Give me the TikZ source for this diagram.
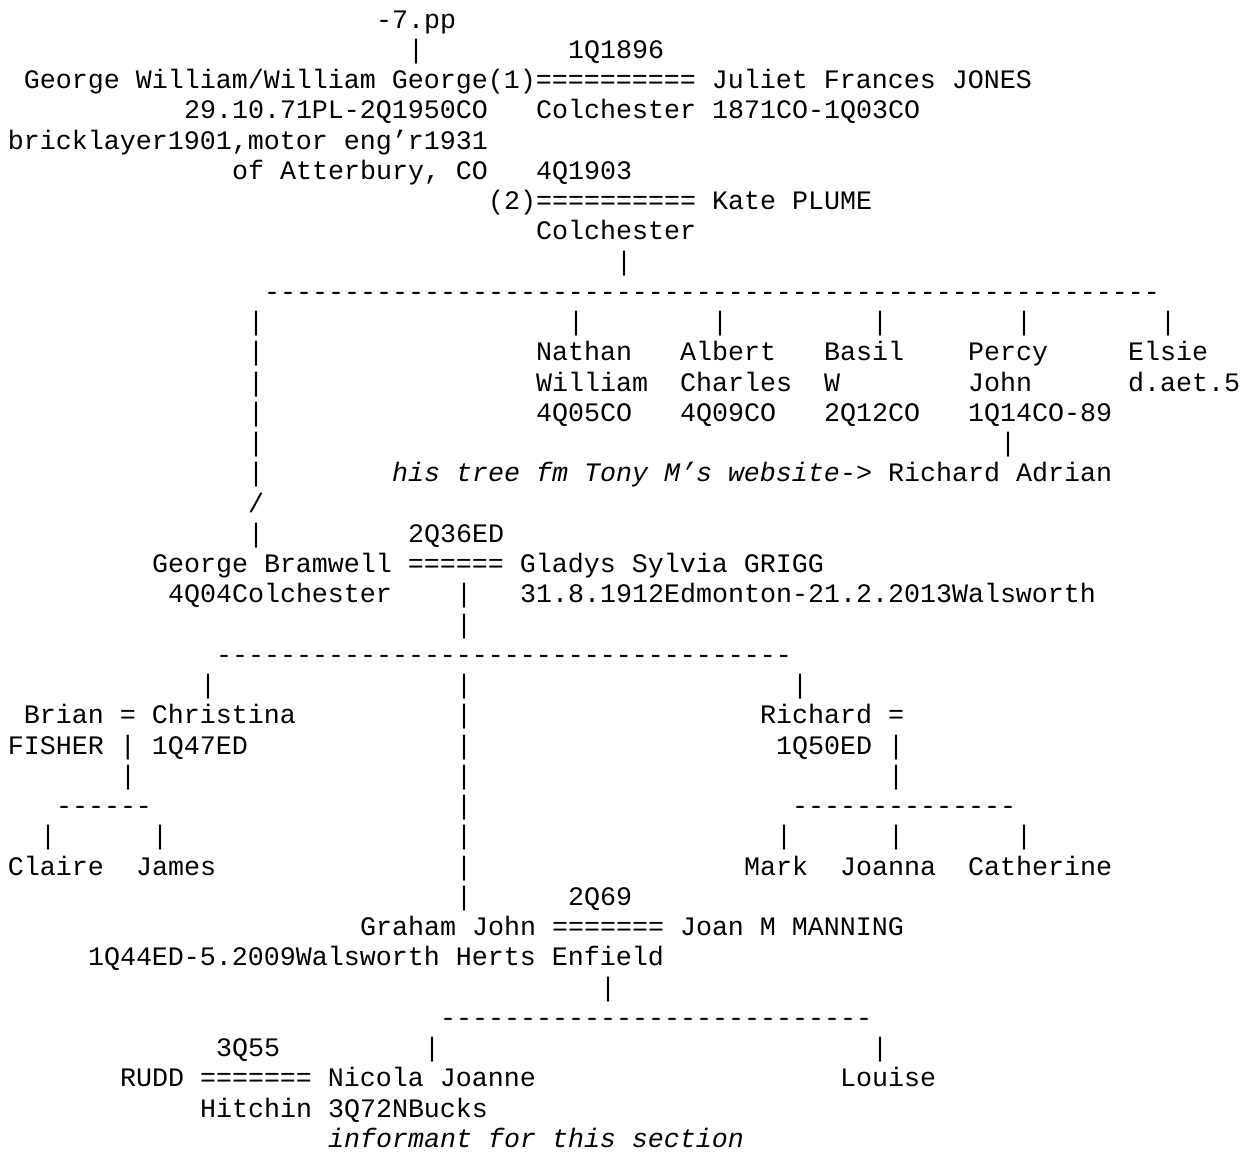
\documentclass[tikz,border=0pt]{standalone}
\usepackage{fontspec}
\setmonofont{Liberation Mono}
\frenchspacing
\newcommand\rep[2]{\ifnum#1>0 #2{}\expandafter\rep\expandafter{\the\numexpr#1-1\relax}{#2}\fi}
\tikzset{txt/.style={anchor=base west, inner sep=0pt, outer sep=0pt,
  font=\ttfamily\fontsize{13.333}{16}\selectfont}}
\newcommand\T[3]{\node[txt] (r#1c#2) at ({8+16*#2},{28+30.25*(#1-1)}) {#3};}
\begin{document}
\begin{tikzpicture}[x=0.5pt,y=-0.5pt]
\fill[white] (0,0) rectangle (1251,1151);
\useasboundingbox (0,0) rectangle (1251,1151);
\T{1}{23}{-7.pp}
\T{2}{25}{|}\T{2}{35}{1Q1896}
\T{3}{1}{George William/William George(1)\rep{10}{=} Juliet Frances JONES}
\T{4}{11}{29.10.71PL-2Q1950CO}\T{4}{33}{Colchester 1871CO-1Q03CO}
\T{5}{0}{bricklayer1901,motor eng’r1931}
\T{6}{14}{of Atterbury, CO}\T{6}{33}{4Q1903}
\T{7}{30}{(2)\rep{10}{=} Kate PLUME}
\T{8}{33}{Colchester}
\T{9}{38}{|}
\T{10}{16}{\rep{56}{-}}
\T{11}{15}{|}\T{11}{35}{|}\T{11}{44}{|}\T{11}{54}{|}\T{11}{63}{|}\T{11}{72}{|}
\T{12}{15}{|}\T{12}{33}{Nathan}\T{12}{42}{Albert}\T{12}{51}{Basil}\T{12}{60}{Percy}\T{12}{70}{Elsie}
\T{13}{15}{|}\T{13}{33}{William}\T{13}{42}{Charles}\T{13}{51}{W}\T{13}{60}{John}\T{13}{70}{d.aet.5}
\T{14}{15}{|}\T{14}{33}{4Q05CO}\T{14}{42}{4Q09CO}\T{14}{51}{2Q12CO}\T{14}{60}{1Q14CO-89}
\T{15}{15}{|}\T{15}{62}{|}
\T{16}{15}{|}\T{16}{24}{{\itshape his tree fm Tony M’s website}-> Richard Adrian}
\T{17}{15}{/}
\T{18}{15}{|}\T{18}{25}{2Q36ED}
\T{19}{9}{George Bramwell \rep{6}{=} Gladys Sylvia GRIGG}
\T{20}{10}{4Q04Colchester}\T{20}{28}{|}\T{20}{32}{31.8.1912Edmonton-21.2.2013Walsworth}
\T{21}{28}{|}
\T{22}{13}{\rep{36}{-}}
\T{23}{12}{|}\T{23}{28}{|}\T{23}{49}{|}
\T{24}{1}{Brian = Christina}\T{24}{28}{|}\T{24}{47}{Richard =}
\T{25}{0}{FISHER | 1Q47ED}\T{25}{28}{|}\T{25}{48}{1Q50ED |}
\T{26}{7}{|}\T{26}{28}{|}\T{26}{55}{|}
\T{27}{3}{\rep{6}{-}}\T{27}{28}{|}\T{27}{49}{\rep{14}{-}}
\T{28}{2}{|}\T{28}{9}{|}\T{28}{28}{|}\T{28}{48}{|}\T{28}{55}{|}\T{28}{63}{|}
\T{29}{0}{Claire}\T{29}{8}{James}\T{29}{28}{|}\T{29}{46}{Mark}\T{29}{52}{Joanna}\T{29}{60}{Catherine}
\T{30}{28}{|}\T{30}{35}{2Q69}
\T{31}{22}{Graham John \rep{7}{=} Joan M MANNING}
\T{32}{5}{1Q44ED-5.2009Walsworth Herts Enfield}
\T{33}{37}{|}
\T{34}{27}{\rep{27}{-}}
\T{35}{13}{3Q55}\T{35}{26}{|}\T{35}{54}{|}
\T{36}{7}{RUDD \rep{7}{=} Nicola Joanne}\T{36}{52}{Louise}
\T{37}{12}{Hitchin 3Q72NBucks}
\T{38}{20}{\itshape informant for this section}
\end{tikzpicture}
\end{document}
